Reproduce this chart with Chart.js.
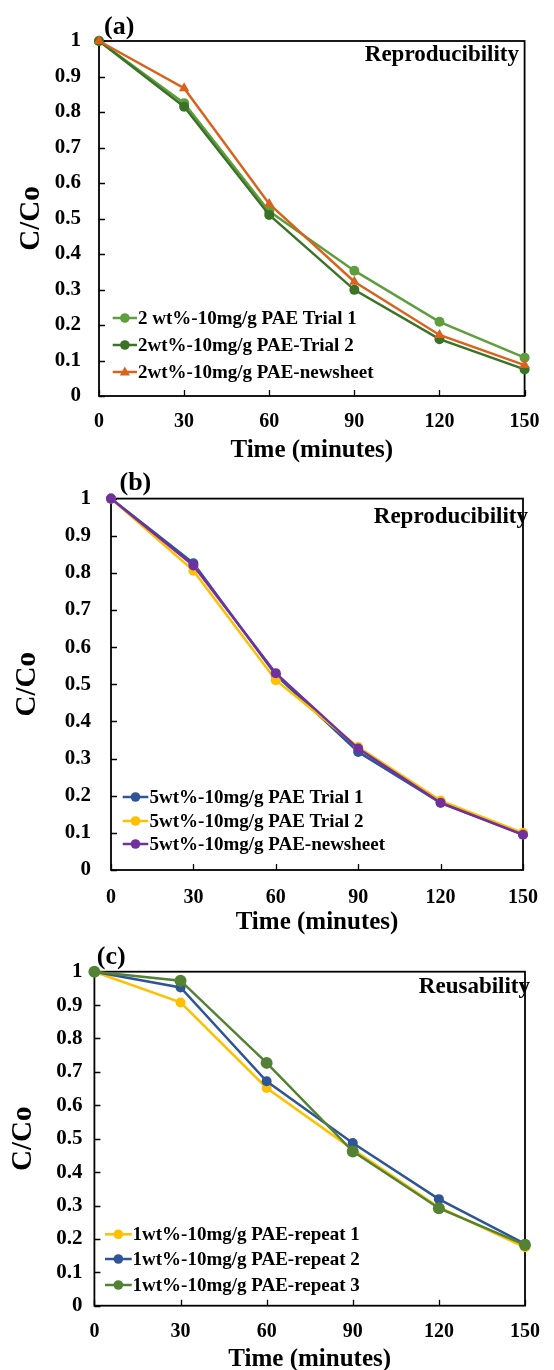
<!DOCTYPE html>
<html><head><meta charset="utf-8">
<script src="https://cdn.jsdelivr.net/npm/chart.js@4.4.0/dist/chart.umd.min.js"></script>
<style>
html,body{margin:0;padding:0;background:#fff;overflow:hidden;width:554px;height:1370px;}
.p{position:absolute;left:0;width:554px;}
canvas{display:block;}
</style></head><body>
<div class="p" style="top:0px"><canvas id="ca" width="554" height="466"></canvas></div>
<div class="p" style="top:466px"><canvas id="cb" width="554" height="474"></canvas></div>
<div class="p" style="top:940px"><canvas id="cc" width="554" height="440"></canvas></div>
<script>
// ---------- data ----------
const timeMinutes = [0, 30, 60, 90, 120, 150];
const xTickValues = [0, 30, 60, 90, 120, 150];
const xTickLabels = ['0', '30', '60', '90', '120', '150'];
const yTickValues = [0, 0.1, 0.2, 0.3, 0.4, 0.5, 0.6, 0.7, 0.8, 0.9, 1];
const yTickLabels = ['0', '0.1', '0.2', '0.3', '0.4', '0.5', '0.6', '0.7', '0.8', '0.9', '1'];
const xTitle = 'Time (minutes)';
const yTitle = 'C/Co';

// panel (a)
const aLabels = ['2 wt%-10mg/g PAE Trial 1', '2wt%-10mg/g PAE-Trial 2', '2wt%-10mg/g PAE-newsheet'];
const aTrial1 = [1, 0.825, 0.52, 0.353, 0.209, 0.108];
const aTrial2 = [1, 0.815, 0.51, 0.299, 0.160, 0.075];
const aNewsheet = [1, 0.867, 0.541, 0.322, 0.172, 0.087];

// panel (b)
const bLabels = ['5wt%-10mg/g PAE Trial 1', '5wt%-10mg/g PAE Trial 2', '5wt%-10mg/g PAE-newsheet'];
const bTrial1 = [1, 0.826, 0.525, 0.318, 0.181, 0.096];
const bTrial2 = [1, 0.806, 0.511, 0.331, 0.187, 0.100];
const bNewsheet = [1, 0.820, 0.530, 0.327, 0.181, 0.095];

// panel (c)
const cLabels = ['1wt%-10mg/g PAE-repeat 1', '1wt%-10mg/g PAE-repeat 2', '1wt%-10mg/g PAE-repeat 3'];
const cRepeat1 = [1, 0.908, 0.652, 0.468, 0.295, 0.175];
const cRepeat2 = [1, 0.953, 0.672, 0.487, 0.319, 0.185];
const cRepeat3 = [1, 0.973, 0.727, 0.462, 0.292, 0.182];

// ---------- drawing ----------
const FONT = 'Liberation Serif, Times New Roman, serif';

function tri(ctx, x, y, r) {
  ctx.beginPath();
  ctx.moveTo(x, y - r * 1.1);
  ctx.lineTo(x + r, y + r * 0.7);
  ctx.lineTo(x - r, y + r * 0.7);
  ctx.closePath();
  ctx.fill();
}

const decor = {
  id: 'decor',
  beforeDatasetsDraw(chart, args, o) {
    const ctx = chart.ctx, a = chart.chartArea;
    const xs = chart.scales.x, ys = chart.scales.y;
    ctx.save();
    ctx.strokeStyle = '#000';
    ctx.lineWidth = 1.8;
    ctx.strokeRect(a.left, a.top, a.right - a.left, a.bottom - a.top);
    ctx.lineWidth = 1.3;
    ctx.beginPath();
    ys.ticks.forEach(t => {
      const y = Math.round(ys.getPixelForValue(t.value)) + 0.5;
      ctx.moveTo(a.left, y); ctx.lineTo(a.left + 6, y);
    });
    xs.ticks.forEach(t => {
      const x = Math.round(xs.getPixelForValue(t.value)) + 0.5;
      ctx.moveTo(x, a.bottom); ctx.lineTo(x, a.bottom - 6);
    });
    ctx.stroke();
    ctx.restore();
  },
  afterDraw(chart, args, o) {
    const ctx = chart.ctx;
    ctx.save();
    ctx.fillStyle = '#000';
    ctx.textBaseline = 'middle';
    ctx.font = 'bold 26px ' + FONT;
    ctx.textAlign = 'left';
    ctx.fillText(o.panel.text, o.panel.x, o.panel.y);
    ctx.font = 'bold 23px ' + FONT;
    ctx.textAlign = 'right';
    ctx.fillText(o.note.text, o.note.x, o.note.y);
    // legend
    const L = o.legend;
    chart.data.datasets.forEach((ds, i) => {
      const y = L.rows[i];
      ctx.strokeStyle = ds.borderColor;
      ctx.fillStyle = ds.borderColor;
      ctx.lineWidth = 2.5;
      ctx.beginPath(); ctx.moveTo(L.x0, y); ctx.lineTo(L.x1, y); ctx.stroke();
      const mx = (L.x0 + L.x1) / 2;
      if (ds.pointStyle === 'triangle') {
        tri(ctx, mx, y, 5);
      } else {
        ctx.beginPath(); ctx.arc(mx, y, Math.min(ds.pointRadius, 4.8), 0, Math.PI * 2); ctx.fill();
      }
      ctx.fillStyle = '#000';
      ctx.font = 'bold 19px ' + FONT;
      ctx.textAlign = 'left';
      ctx.fillText(ds.label, L.tx, y + 1);
    });
    ctx.restore();
  }
};

function series(label, data, color, style, r) {
  return {
    label: label,
    data: timeMinutes.map((t, i) => ({ x: t, y: data[i] })),
    borderColor: color, backgroundColor: color,
    pointBackgroundColor: color, pointBorderColor: color,
    pointStyle: style, pointRadius: r, pointBorderWidth: 0,
    borderWidth: 2.5, clip: false, tension: 0
  };
}

function makeChart(id, datasets, g) {
  const n = datasets.length;
  datasets.forEach((d, i) => { d.order = n - 1 - i; });
  return new Chart(document.getElementById(id), {
    type: 'line',
    data: { datasets: datasets },
    options: {
      responsive: false, animation: false, devicePixelRatio: 1,
      layout: { padding: { left: 0, right: 554 - g.right, top: g.top, bottom: 0 } },
      plugins: {
        legend: { display: false }, tooltip: { enabled: false },
        decor: { panel: g.panel, note: g.note, legend: g.legend }
      },
      scales: {
        x: {
          type: 'linear', min: 0, max: 150,
          afterBuildTicks: s => { s.ticks = xTickValues.map(v => ({ value: v })); },
          afterFit: s => { s.height = g.xh; },
          grid: { display: false, drawTicks: false }, border: { display: false },
          ticks: {
            callback: v => xTickLabels[xTickValues.indexOf(v)],
            font: { family: FONT, size: 20, weight: 'bold' }, color: '#000',
            padding: g.xpad, maxRotation: 0, autoSkip: false
          },
          title: { display: true, text: xTitle, color: '#000',
            font: { family: FONT, size: 25, weight: 'bold' }, padding: { top: 0, bottom: g.xtpad } }
        },
        y: {
          type: 'linear', min: 0, max: 1,
          afterBuildTicks: s => { s.ticks = yTickValues.map(v => ({ value: v })); },
          afterFit: s => { s.width = g.left; },
          grid: { display: false, drawTicks: false }, border: { display: false },
          ticks: {
            callback: v => yTickLabels[yTickValues.findIndex(t => Math.abs(t - v) < 1e-9)],
            font: { family: FONT, size: 21, weight: 'bold' }, color: '#000',
            padding: g.ypad, autoSkip: false
          },
          title: { display: true, text: yTitle, color: '#000',
            font: { family: FONT, size: 29, weight: 'bold' }, padding: { top: g.ytpad, bottom: 0 } }
        }
      }
    },
    plugins: [decor]
  });
}

makeChart('ca', [
  series(aLabels[0], aTrial1, '#5f9e3c', 'circle', 5),
  series(aLabels[1], aTrial2, '#3a7227', 'circle', 5),
  series(aLabels[2], aNewsheet, '#d9621c', 'triangle', 6)
], {
  left: 99, right: 524.6, top: 41, xh: 70, xpad: 14, xtpad: 0, ypad: 18, ytpad: 14,
  panel: { text: '(a)', x: 104, y: 27 },
  note: { text: 'Reproducibility', x: 519, y: 55 },
  legend: { x0: 112.7, x1: 137, tx: 138, rows: [318, 345, 372] }
});

makeChart('cb', [
  series(bLabels[0], bTrial1, '#2f5597', 'circle', 5),
  series(bLabels[1], bTrial2, '#ffc000', 'circle', 5),
  series(bLabels[2], bNewsheet, '#7030a0', 'circle', 5)
], {
  left: 111, right: 531.7, top: 32.3, xh: 70, xpad: 16, xtpad: 2, ypad: 20, ytpad: 10,
  panel: { text: '(b)', x: 119.5, y: 17 },
  note: { text: 'Reproducibility', x: 528, y: 51 },
  legend: { x0: 122.7, x1: 148.3, tx: 149.5, rows: [331, 355, 378] }
});

makeChart('cc', [
  series(cLabels[0], cRepeat1, '#ffc000', 'circle', 5),
  series(cLabels[1], cRepeat2, '#2f5597', 'circle', 5),
  series(cLabels[2], cRepeat3, '#548235', 'circle', 6)
], {
  left: 94.4, right: 533.5, top: 31.7, xh: 74.3, xpad: 14, xtpad: 5, ypad: 12, ytpad: 6,
  panel: { text: '(c)', x: 96.8, y: 17 },
  note: { text: 'Reusability', x: 530, y: 47 },
  legend: { x0: 105, x1: 131.7, tx: 132.5, rows: [294.3, 319, 345] }
});
</script>
</body></html>
